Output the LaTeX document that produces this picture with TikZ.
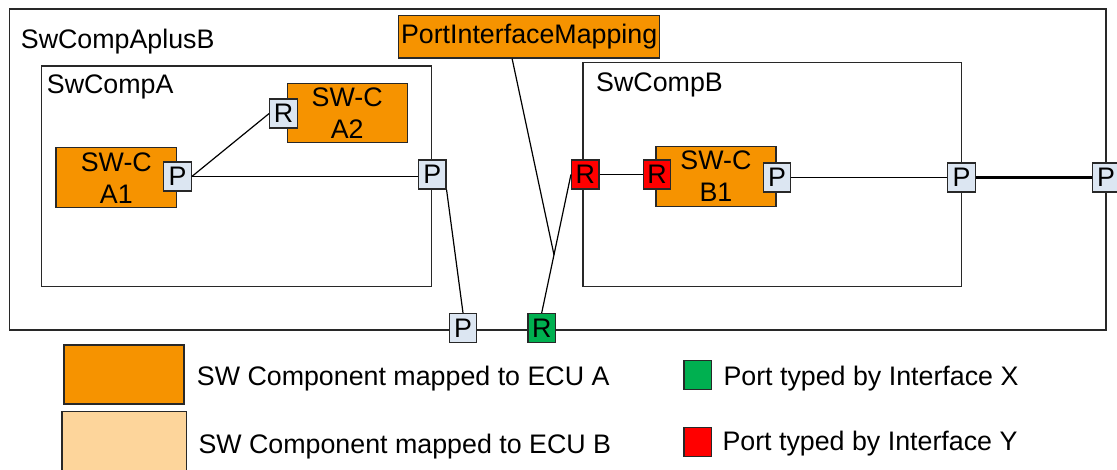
\documentclass[tikz,border=0pt]{standalone}
\usepackage{fontspec}
\setmainfont{Liberation Sans}
\usetikzlibrary{calc}
\definecolor{orA}{RGB}{246,147,0}
\definecolor{orB}{RGB}{253,213,155}
\definecolor{portbl}{RGB}{220,230,242}
\definecolor{grn}{RGB}{0,176,80}
\definecolor{rd}{RGB}{255,0,0}
\definecolor{edgec}{RGB}{40,40,40}
\begin{document}
\begin{tikzpicture}[x=1pt,y=-1pt,
  container/.style={draw=edgec, line width=1.6pt, anchor=north west, inner sep=0pt, outer sep=0pt},
  comp/.style={draw=edgec, line width=1.3pt, fill=orA, align=center, inner sep=0pt, anchor=north west, font=\fontsize{26.8}{32}\selectfont},
  port/.style={draw=edgec, line width=1.2pt, fill=portbl, minimum width=27.5pt, minimum height=29pt, inner sep=0pt, font=\fontsize{26.8}{30}\selectfont},
  conn/.style={line width=1.2pt, black},
  lbl/.style={anchor=base west, inner sep=0pt, font=\fontsize{26.8}{30}\selectfont},
  legbox/.style={draw=edgec, line width=1.3pt, anchor=north west, inner sep=0pt},
]
\useasboundingbox (0,0) rectangle (1117,470);
% containers
\node[container, minimum width=1096.7pt, minimum height=320.7pt] (outer) at (9.3,9.3) {};
\node[container, minimum width=390pt, minimum height=220.7pt] (ca) at (41.5,66) {};
\node[container, minimum width=378.7pt, minimum height=224pt] (cb) at (582.7,62.7) {};
\node[lbl] (tAB) at (20.7,48.3) {SwCompAplusB};
\node[lbl] (tA) at (46.7,93.3) {SwCompA};
\node[lbl] (tB) at (596,91.5) {SwCompB};
% components
\node[comp, minimum width=261pt, minimum height=42.3pt] (pim) at (398,15) {PortInterfaceMapping};
\node[comp, minimum width=120pt, minimum height=59pt] (a2) at (286.5,83) {SW-C\\A2};
\node[comp, minimum width=120.7pt, minimum height=60pt] (a1) at (55.3,147) {SW-C\\A1};
\node[comp, minimum width=120pt, minimum height=60pt] (b1) at (655.3,145.7) {SW-C\\B1};
% ports
\node[port] (a2r) at (283.5,113.5) {R};
\node[port] (a1p) at (177.5,176.5) {P};
\node[port] (pa) at (432.2,174.5) {P};
\node[port] (pb) at (463,328) {P};
\node[port, fill=grn] (gr) at (541.7,328) {R};
\node[port, fill=rd] (rr) at (585.3,174.5) {R};
\node[port, fill=rd] (b1r) at (657,174.5) {R};
\node[port] (b1p) at (777,177.5) {P};
\node[port] (pbb) at (961.6,177.5) {P};
\node[port] (po) at (1106,177.5) {P};
% connectors
\coordinate (mid) at ($(gr.north)!0.42!(rr.west)$);
\draw[conn] (a1p.east) -- (a2r.west);
\draw[conn] (a1p.east) -- (a1p.east -| pa.west);
\draw[conn] (pa.south east) -- (pb.north);
\draw[conn] (gr.north) -- (rr.west);
\draw[conn] ($(pim.south west)!0.435!(pim.south east)$) -- (mid);
\draw[conn] (rr.east) -- (b1r.west);
\draw[conn] (b1p.east) -- (pbb.west);
\draw[conn, line width=2.2pt] (pbb.east) -- (po.west);
% legend
\node[legbox, fill=orA, minimum width=120pt, minimum height=59pt] (legA) at (63.3,344.3) {};
\node[legbox, fill=orB, minimum width=124.4pt, minimum height=70pt] (legB) at (61.3,411) {};
\node[lbl] (legAt) at (196.7,385.7) {SW Component mapped to ECU A};
\node[lbl] (legBt) at (198.3,453.3) {SW Component mapped to ECU B};
\node[legbox, fill=grn, minimum width=27.4pt, minimum height=28.7pt] (legX) at (683.3,360) {};
\node[legbox, fill=rd, minimum width=27.4pt, minimum height=29.3pt] (legY) at (683.3,426.7) {};
\node[lbl] (legXt) at (723.3,385) {Port typed by Interface X};
\node[lbl] (legYt) at (722.3,450) {Port typed by Interface Y};
\end{tikzpicture}
\end{document}
